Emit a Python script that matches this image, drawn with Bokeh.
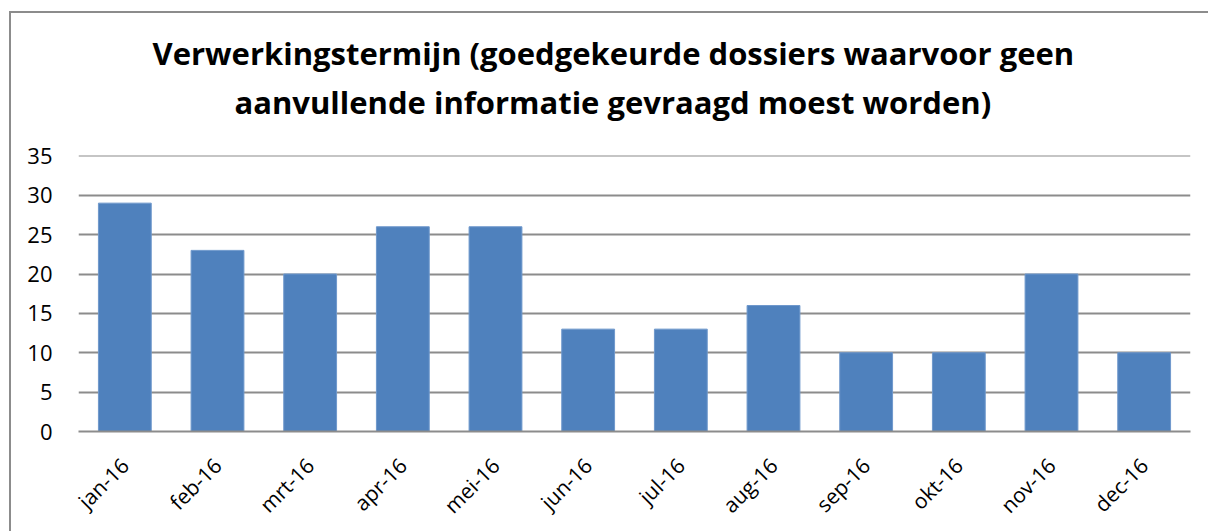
import math
from bokeh.plotting import figure
from bokeh.layouts import column
from bokeh.models import FixedTicker, ColumnDataSource, Range1d, Title
from bokeh.embed import file_html
from bokeh.resources import INLINE

months = ["jan-16", "feb-16", "mrt-16", "apr-16", "mei-16", "jun-16",
          "jul-16", "aug-16", "sep-16", "okt-16", "nov-16", "dec-16"]
values = [29, 23, 20, 26, 26, 13, 13, 16, 10, 10, 20, 10]
y_ticks = [0, 5, 10, 15, 20, 25, 30, 35]
title_line1 = "Verwerkingstermijn (goedgekeurde dossiers waarvoor geen"
title_line2 = "aanvullende informatie gevraagd moest worden)"

FONT = "Open Sans"
GRID = "#8c8c8c"
BAR = "#4F81BD"

src = ColumnDataSource(data=dict(month=months, value=values))

p = figure(x_range=months, y_range=Range1d(0, 35.05), width=1190, height=518,
           output_backend="svg", toolbar_location=None,
           min_border_left=67, min_border_right=11, min_border_bottom=98,
           min_border_top=142)
p.vbar(x="month", top="value", width=0.57, source=src,
       fill_color=BAR, line_color="#6f98cc", line_width=1)

p.add_layout(Title(text=title_line2, align="left", offset=156, text_font=FONT,
                   text_font_size="31px", text_font_style="bold",
                   text_color="black", standoff=66), "above")
p.add_layout(Title(text=title_line1, align="left", offset=74, text_font=FONT,
                   text_font_size="31px", text_font_style="bold",
                   text_color="black", standoff=-56), "above")

p.outline_line_color = None
p.background_fill_color = "white"
p.border_fill_color = "white"

p.xgrid.grid_line_color = None
p.ygrid.grid_line_color = GRID
p.ygrid.grid_line_width = 2
p.ygrid.ticker = FixedTicker(ticks=y_ticks)

p.yaxis.ticker = FixedTicker(ticks=y_ticks)
p.yaxis.axis_line_color = None
p.yaxis.major_tick_line_color = None
p.yaxis.minor_tick_line_color = None
p.yaxis.major_label_standoff = 20
p.yaxis.major_label_text_font = FONT
p.yaxis.major_label_text_font_size = "22px"
p.yaxis.major_label_text_color = "black"

p.xaxis.axis_line_color = GRID
p.xaxis.axis_line_width = 2
p.xaxis.major_tick_line_color = None
p.xaxis.minor_tick_line_color = None
p.xaxis.major_label_orientation = math.pi / 4
p.xaxis.major_label_standoff = 24
p.xaxis.major_label_text_font = FONT
p.xaxis.major_label_text_font_size = "21px"
p.xaxis.major_label_text_color = "black"

layout = column(p, width=1199, height=520,
                styles={"border-left": "2px solid #8c8c8c",
                        "border-top": "2px solid #8c8c8c",
                        "margin-left": "9px", "margin-top": "11px"})

open("out.html", "w").write(file_html(layout, INLINE))
